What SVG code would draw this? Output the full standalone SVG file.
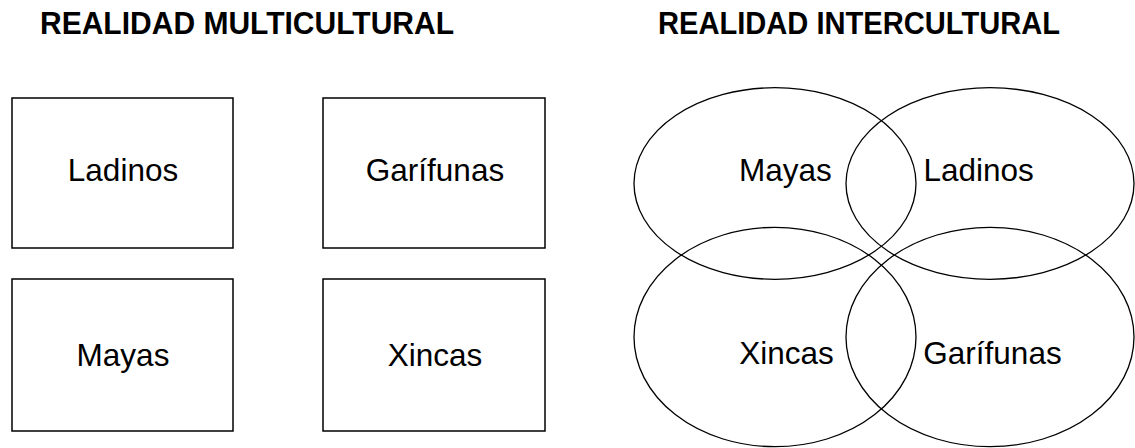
<svg xmlns="http://www.w3.org/2000/svg" width="1135" height="448" viewBox="0 0 1135 448">
<style>
.title{font-family:"Liberation Sans",Arial,sans-serif;font-weight:bold;font-size:31.5px;fill:#000;text-anchor:middle}
.lbl{font-family:"Liberation Sans",Arial,sans-serif;font-size:31.5px;fill:#000;text-anchor:middle}
.box{fill:#fff;stroke:#000;stroke-width:1.5}
.ell{fill:none;stroke:#000;stroke-width:1.3}
</style>
<rect width="1135" height="448" fill="#fff"/>
<text class="title" x="247" y="34.3" textLength="414" lengthAdjust="spacingAndGlyphs">REALIDAD MULTICULTURAL</text>
<text class="title" x="859" y="34.3" textLength="402" lengthAdjust="spacingAndGlyphs">REALIDAD INTERCULTURAL</text>
<g id="box-ladinos"><rect class="box" x="12" y="98" width="221" height="150"/><text class="lbl" x="123" y="180.7">Ladinos</text></g>
<g id="box-garifunas"><rect class="box" x="323" y="98" width="222" height="150"/><text class="lbl" x="435" y="180.7">Garífunas</text></g>
<g id="box-mayas"><rect class="box" x="12" y="279" width="221" height="152"/><text class="lbl" x="123" y="366">Mayas</text></g>
<g id="box-xincas"><rect class="box" x="323" y="279" width="222" height="152"/><text class="lbl" x="435" y="366">Xincas</text></g>
<g id="ell-mayas"><ellipse class="ell" cx="775" cy="183.5" rx="141" ry="95.8"/><text class="lbl" x="785.3" y="180.7">Mayas</text></g>
<g id="ell-ladinos"><ellipse class="ell" cx="990" cy="183.5" rx="144" ry="95.8"/><text class="lbl" x="978.7" y="180.7">Ladinos</text></g>
<g id="ell-xincas"><ellipse class="ell" cx="775" cy="337" rx="141" ry="109.7"/><text class="lbl" x="786.5" y="364.3">Xincas</text></g>
<g id="ell-garifunas"><ellipse class="ell" cx="990" cy="337" rx="144" ry="109.7"/><text class="lbl" x="992.5" y="364.3">Garífunas</text></g>
<g id="connectors"/>
</svg>
